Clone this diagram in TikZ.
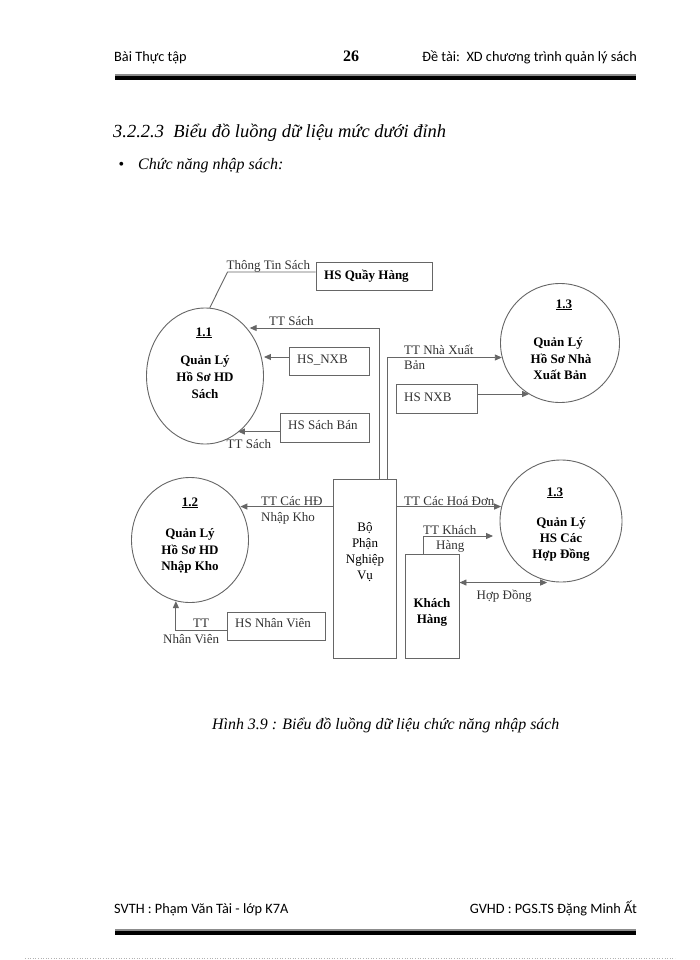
\documentclass[tikz,border=0pt]{standalone}
\usepackage{fontspec}
\setmainfont{Liberation Serif}
\newfontfamily\hdfont{Carlito}
\usetikzlibrary{arrows.meta,shapes.geometric,calc}
\begin{document}
\begin{tikzpicture}[x=1pt,y=-1pt,
  ln/.style={draw=black!60, line width=0.9pt},
  arr/.style={ln, -{Triangle[length=7pt,width=6pt]}},
  dbl/.style={ln, {Triangle[length=7pt,width=6pt]}-{Triangle[length=7pt,width=6pt]}},
  boxn/.style={draw=black!60, line width=0.9pt, rectangle, inner sep=0pt},
  proc/.style={draw=black!60, line width=0.9pt, ellipse, inner sep=0pt},
  lbl/.style={font=\fontsize{13}{15}\selectfont, text=black!80, inner sep=0pt, anchor=base west},
  blbl/.style={font=\bfseries\fontsize{13}{15}\selectfont, text=black, inner sep=0pt},
  ptxt/.style={font=\bfseries\fontsize{13}{15}\selectfont, text=black, inner sep=0pt, anchor=base},
  rtxt/.style={font=\fontsize{13}{15}\selectfont, text=black, inner sep=0pt, anchor=base},
  hd/.style={font=\hdfont\fontsize{14.3}{17}\selectfont, inner sep=0pt},
]
\useasboundingbox (0,0) rectangle (700,960);
\fill[white] (0,0) rectangle (700,960);

% header
\node[hd, anchor=base west] (hl) at (114,62) {Bài Thực tập};
\node[font=\bfseries\fontsize{16}{18}\selectfont, inner sep=0pt, anchor=base] (pg) at (351,62) {26};
\node[hd, anchor=base east] (hr) at (637,62) {Đề tài:\ \ XD chương trình quản lý sách};
\draw[black!45, line width=2.2pt] (115,75) -- (636,75);
\draw[black, line width=4pt] (115,78.2) -- (636,78.2);

% title
\node[font=\itshape\fontsize{18.5}{22}\selectfont, inner sep=0pt, anchor=base west] (ttl) at (113,138) {3.2.2.3\ \ Biểu đồ luồng dữ liệu mức dưới đỉnh};
\node[font=\fontsize{16}{18}\selectfont, inner sep=0pt, anchor=base] (bul) at (121.5,170) {\textbullet};
\node[font=\itshape\fontsize{16}{18}\selectfont, inner sep=0pt, anchor=base west] (sub) at (138,170) {Chức năng nhập sách:};

% processes
\node[proc, minimum width=117pt, minimum height=136pt] (c11) at (205,376) {};
\node[proc, minimum width=117pt, minimum height=125pt] (c12) at (190,540) {};
\node[proc, minimum width=119pt, minimum height=119pt] (c13a) at (560,343) {};
\node[proc, minimum width=122pt, minimum height=122pt] (c13b) at (561,521) {};

\node[ptxt] (c11n) at (204,336) {\underline{1.1}};
\node[ptxt] (c11a) at (205,364) {Quản Lý};
\node[ptxt] (c11b) at (205,381) {Hồ Sơ HD};
\node[ptxt] (c11c) at (205,398) {Sách};

\node[ptxt] (c12n) at (190,506) {\underline{1.2}};
\node[ptxt] (c12a) at (190,537) {Quản Lý};
\node[ptxt] (c12b) at (190,554) {Hồ Sơ HD};
\node[ptxt] (c12c) at (190,570) {Nhập Kho};

\node[ptxt] (c13an) at (564,308) {\underline{1.3}};
\node[ptxt] (c13aa) at (558,346) {Quản Lý};
\node[ptxt] (c13ab) at (561,363) {Hồ Sơ Nhà};
\node[ptxt] (c13ac) at (560,379) {Xuất Bản};

\node[ptxt] (c13bn) at (555,496) {\underline{1.3}};
\node[ptxt] (c13ba) at (561,526) {Quản Lý};
\node[ptxt] (c13bb) at (561,542) {HS Các};
\node[ptxt] (c13bc) at (561,558) {Hợp Đồng};

% boxes
\node[boxn, minimum width=116pt, minimum height=28pt] (qh) at (374,276) {};
\node[blbl, anchor=base west] (qht) at (324,279) {HS Quầy Hàng};
\node[boxn, minimum width=80pt, minimum height=28pt] (nxb1) at (329,361) {};
\node[lbl] (nxb1t) at (297,363) {HS\_NXB};
\node[boxn, minimum width=89pt, minimum height=29pt] (sb) at (324.5,427.5) {};
\node[lbl] (sbt) at (288,429) {HS Sách Bán};
\node[boxn, minimum width=81pt, minimum height=29pt] (nxb2) at (436.5,398.5) {};
\node[lbl] (nxb2t) at (404,401) {HS NXB};
\node[boxn, minimum width=98pt, minimum height=28pt] (nv) at (276,626) {};
\node[lbl] (nvt) at (235,627.5) {HS Nhân Viên};
\node[boxn, minimum width=63pt, minimum height=179pt] (bp) at (364.5,568.5) {};
\node[rtxt] (bpa) at (365,531) {Bộ};
\node[rtxt] (bpb) at (365,547) {Phận};
\node[rtxt] (bpc) at (365,563) {Nghiệp};
\node[rtxt] (bpd) at (365,579) {Vụ};
\node[boxn, minimum width=54pt, minimum height=104pt] (kh) at (432,606) {};
\node[ptxt] (kha) at (432,607) {Khách};
\node[ptxt] (khb) at (432,623) {Hàng};

% connectors
\coordinate (qhw) at ([yshift=4pt]qh.west);
\draw[ln] (qhw) -- ++(-88,0) -- (c11.86);
\node[lbl] (l1) at (226.5,269) {Thông Tin Sách};

\coordinate (bpA) at ([xshift=14.5pt]bp.north);
\draw[arr] (bpA) -- (bpA |- 0,328) -- (c11.45 |- 0,328);
\node[lbl] (l2) at (269,325) {TT Sách};

\coordinate (bpB) at ([xshift=22.5pt]bp.north);
\draw[arr] (bpB) |- (c13a.194);
\node[lbl] (l3a) at (404,354) {TT Nhà Xuất};
\node[lbl] (l3b) at (404,369.5) {Bản};

\coordinate (n1w) at ([yshift=4pt]nxb1.west);
\draw[arr] (n1w) -- (n1w -| c11.east);

\coordinate (sbw) at ([yshift=-4pt]sb.west);
\draw[arr] (sbw) -- (sbw -| c11.-60);
\node[lbl] (l4) at (226.5,448) {TT Sách};

\coordinate (n2e) at ([yshift=4.5pt]nxb2.east);
\draw[arr] (n2e) -- (n2e -| c13a.239);

\coordinate (bpw) at ([yshift=-28pt]bp.north west);
\draw[arr] (bpw) -- (bpw -| c12.33);
\node[lbl] (l5a) at (261,505) {TT Các HĐ};
\node[lbl] (l5b) at (261,521) {Nhập Kho};

\coordinate (bpe) at ([yshift=-28pt]bp.north east);
\draw[arr] (bpe) -- (bpe -| c13b.167);
\node[lbl] (l6) at (404,505) {TT Các Hoá Đơn};

\coordinate (khA) at ([xshift=-9pt]kh.north);
\coordinate (khT) at (493,536);
\draw[arr] (khA) |- (khT);
\node[lbl] (l7a) at (423,534) {TT Khách};
\node[lbl] (l7b) at (436,549) {Hàng};

\coordinate (khE) at ([yshift=-29pt]kh.north east);
\draw[dbl] (khE) -- (khE -| c13b.-103);
\node[lbl] (l8) at (476.5,599.5) {Hợp Đồng};

\coordinate (nvw) at ([yshift=-4pt]nv.west);
\draw[arr] (nvw) -| (c12.-103);
\node[lbl] (l9a) at (193,627.5) {TT};
\node[lbl] (l9b) at (163,643) {Nhân Viên};

% caption
\node[font=\itshape\fontsize{15.9}{18}\selectfont, inner sep=0pt, anchor=base west] (cap) at (212,729) {Hình 3.9 : Biểu đồ luồng dữ liệu chức năng nhập sách};

% footer
\node[hd, anchor=base west] (fl) at (114,913) {SVTH : Phạm Văn Tài - lớp K7A};
\node[hd, anchor=base east] (fr) at (637,913) {GVHD : PGS.TS Đặng Minh Ất};
\draw[black!45, line width=1.8pt] (115,929.7) -- (636,929.7);
\draw[black, line width=4.2pt] (115,932.6) -- (636,932.6);
\draw[black!30, dotted, line width=0.6pt] (25,958.5) -- (675,958.5);
\end{tikzpicture}
\end{document}
